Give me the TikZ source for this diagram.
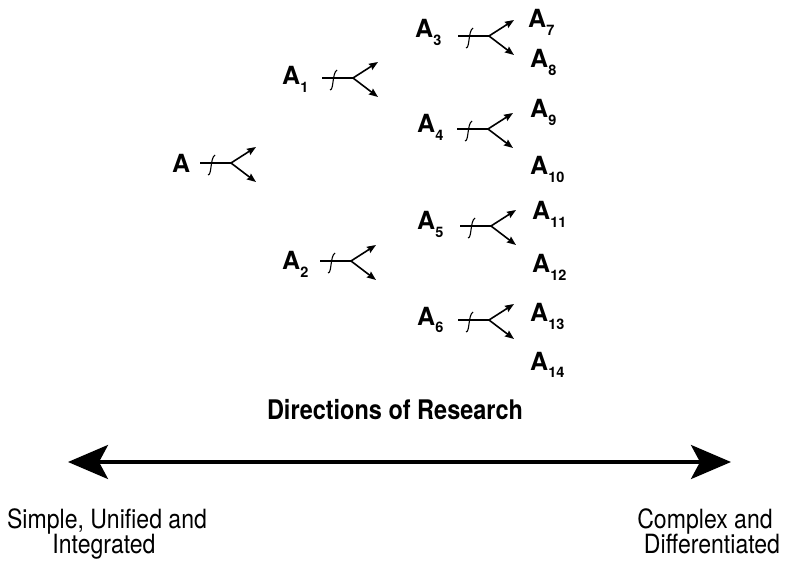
\documentclass[tikz,border=0pt]{standalone}
\usepackage{fontspec}
\setmainfont{TeX Gyre Heros}
\newfontfamily\narrowfont[FakeStretch=0.87]{TeX Gyre Heros}
\usetikzlibrary{arrows.meta,calc}
\newcommand\sbs[1]{\raisebox{-0.3em}{\fontsize{14.5}{14.5}\selectfont #1}}
\newcommand\forkat[3]{%
  \coordinate (#1s) at (#2,#3);
  \coordinate (#1j) at (#2+31,#3);
  \coordinate (#1u) at (#2+56,#3-16);
  \coordinate (#1d) at (#2+56,#3+19);
  \coordinate (#1ta) at (#2+8,#3+12);
  \coordinate (#1tb) at (#2+15,#3-8);
  \draw[forkline] (#1s) -- (#1j);
  \draw[forkline,-{Stealth[length=9pt,width=7pt,inset=1pt]}] (#1j) -- (#1u);
  \draw[forkline,-{Stealth[length=9pt,width=7pt,inset=1pt]}] (#1j) -- (#1d);
  \draw[forkline,line width=1.1pt] (#1ta) .. controls ($(#1ta)+(4,0)$) and ($(#1tb)+(-5,3)$) .. (#1tb);
}
\begin{document}
\begin{tikzpicture}[x=1pt,y=-1pt,
  lab/.style={font=\fontsize{25}{25}\selectfont\bfseries, inner sep=0pt, anchor=base west},
  btext/.style={font=\narrowfont\fontsize{26.5}{26.5}\selectfont, inner sep=0pt, anchor=base},
  bbold/.style={font=\narrowfont\fontsize{27}{27}\selectfont\bfseries, inner sep=0pt, anchor=base},
  forkline/.style={line width=1.6pt, line cap=butt},
  bigarrow/.style={line width=3.5pt, {Stealth[length=40pt,width=34pt,inset=9pt]}-{Stealth[length=40pt,width=34pt,inset=9pt]}}]
\useasboundingbox (0,0) rectangle (787,561);

% labels
\node[lab] (A)   at (172,173) {A};
\node[lab] (A1)  at (282,85)  {A\sbs{1}};
\node[lab] (A2)  at (282,270) {A\sbs{2}};
\node[lab] (A3)  at (415,38)  {A\sbs{3}};
\node[lab] (A4)  at (417,133) {A\sbs{4}};
\node[lab] (A5)  at (417,230) {A\sbs{5}};
\node[lab] (A6)  at (417,325) {A\sbs{6}};
\node[lab] (A7)  at (528,28)  {A\sbs{7}};
\node[lab] (A8)  at (530,68)  {A\sbs{8}};
\node[lab] (A9)  at (530,118) {A\sbs{9}};
\node[lab] (A10) at (530,175) {A\sbs{10}};
\node[lab] (A11) at (532,220) {A\sbs{11}};
\node[lab] (A12) at (532,273) {A\sbs{12}};
\node[lab] (A13) at (530,322) {A\sbs{13}};
\node[lab] (A14) at (530,370) {A\sbs{14}};

% forks
\forkat{f0}{200}{163}
\forkat{f1}{322}{78}
\forkat{f2}{320}{261}
\forkat{f3}{458}{36}
\forkat{f4}{457}{129}
\forkat{f5}{460}{226}
\forkat{f6}{458}{320}

% bottom
\node[bbold] (dir) at (395,419) {Directions of Research};
\coordinate (L) at (68,462);
\coordinate (R) at (731,462);
\draw[bigarrow] (L) -- (R);
\node[btext] (s1) at (107,528) {Simple, Unified and};
\node[btext] (s2) at (104,553) {Integrated};
\node[btext] (c1) at (705,528) {Complex and};
\node[btext] (c2) at (712,553) {Differentiated};
\end{tikzpicture}
\end{document}
